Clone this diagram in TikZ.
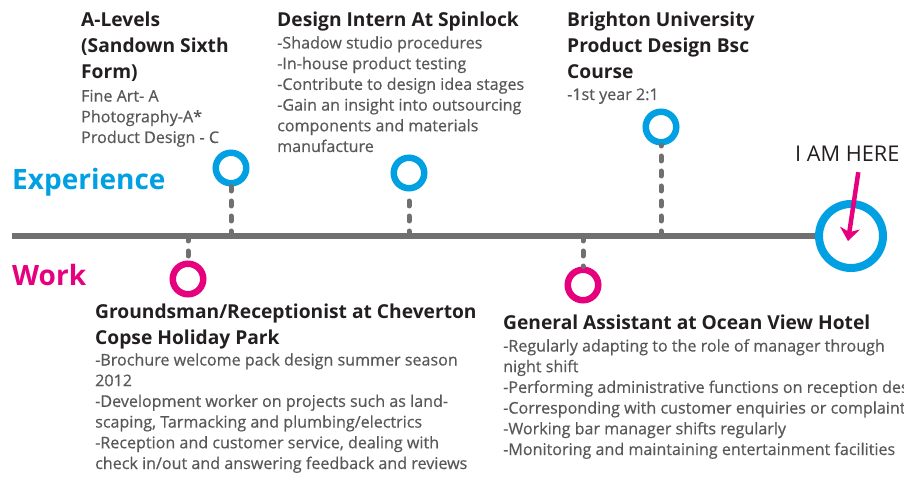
\documentclass[tikz,border=0pt]{standalone}
\usepackage{fontspec}
\setmainfont{Open Sans}
\newfontfamily\bodyfont{Open Sans}[FakeBold = 0.5]
\usetikzlibrary{arrows.meta}
\usetikzlibrary{positioning}
\definecolor{expblue}{RGB}{0,160,227}
\definecolor{workpink}{RGB}{230,0,126}
\definecolor{linegray}{RGB}{112,112,112}
\definecolor{headdark}{RGB}{35,31,32}
\definecolor{bodygray}{RGB}{88,88,90}
\tikzset{ring/.style = {draw = #1, circle, line width = 6.5pt, inner sep = 0, minimum size = 30.5pt}}
\tikzset{bigring/.style = {draw = expblue, circle, line width = 8pt, inner sep = 0, minimum size = 64pt}}
\tikzset{stem/.style = {linegray, line width = 5pt, line cap = round, dash pattern = on 5pt off 10pt}}
\tikzset{axis/.style = {linegray, line width = 6pt}}
\tikzset{pointer/.style = {workpink, line width = 4.5pt, -{Stealth[length = 13pt, width = 20pt, inset = 4pt]}}}
\tikzset{head/.style = {headdark, font = \bfseries\fontsize{19.2}{26}\selectfont, align = left, inner sep = 0, anchor = base west}}
\tikzset{body/.style = {bodygray, font = \bodyfont\fontsize{16.1}{20.7}\selectfont, align = left, inner sep = 0, anchor = base west}}
\tikzset{side/.style = {font = \bfseries\fontsize{28}{32}\selectfont, inner sep = 0, anchor = base west}}

\begin{document}
\begin{tikzpicture}[x = 1pt, y = -1pt]
      \useasboundingbox (0, 0) rectangle (904, 478);
      \clip (0, 0) rectangle (904, 478);
      \coordinate (start) at (12, 236);
      \node [bigring] (here) at (851, 236) {};
      \draw [axis] (start) -- (here.west);
      \foreach \n/\x/\y in {edu/231/168, intern/409/173, uni/661/127} {
        \node [ring = expblue] (\n) at (\x, \y) {};
        \draw [stem] (\n.south |- start) -- (\n.south);
      }
      \foreach \n/\x/\y in {park/188/279, hotel/583/285} {
        \node [ring = workpink] (\n) at (\x, \y) {};
        \draw [stem] (\n.north |- start) -- (\n.north);
      }
      \node [side, expblue] (explabel) at (12, 190) {Experience};
      \node [side, workpink] (worklabel) at (12, 285) {Work};
      \node [headdark, font = \fontsize{21.7}{24}\selectfont, inner sep = 0, anchor = base west] (iam) at (795, 162) {I AM HERE};
      \draw [pointer] ([xshift = 11pt, yshift = -10pt]iam.south) -- ([xshift = -3pt, yshift = -5pt]here.center);
      \node [head] (eduhead) at (81, 79) {A-Levels\\(Sandown Sixth\\Form)};
      \node [body] (edubody) at (81, 143) {Fine Art- A\\Photography-A*\\Product Design - C};
      \node [head] (internhead) at (277, 27) {Design Intern At Spinlock};
      \node [body] (internbody) at (277, 152) {-Shadow studio procedures\\-In-house product testing\\-Contribute to design idea stages\\-Gain an insight into outsourcing\\components and materials\\manufacture};
      \node [head] (unihead) at (567, 79) {Brighton University\\Product Design Bsc\\Course};
      \node [body] (unibody) at (567, 100) {-1st year 2:1};
      \node [head] (parkhead) at (95, 344) {Groundsman/Receptionist at Cheverton\\Copse Holiday Park};
      \node [body] (parkbody) at (95, 469) {-Brochure welcome pack design summer season\\2012\\-Development worker on projects such as land-\\scaping, Tarmacking and plumbing/electrics\\-Reception and customer service, dealing with\\check in/out and answering feedback and reviews};
      \node [head] (hotelhead) at (503, 329) {General Assistant at Ocean View Hotel};
      \node [body] (hotelbody) at (503, 455) {-Regularly adapting to the role of manager through\\night shift\\-Performing administrative functions on reception desk\\-Corresponding with customer enquiries or complaints\\-Working bar manager shifts regularly\\-Monitoring and maintaining entertainment facilities};
    \end{tikzpicture}
\end{document}
